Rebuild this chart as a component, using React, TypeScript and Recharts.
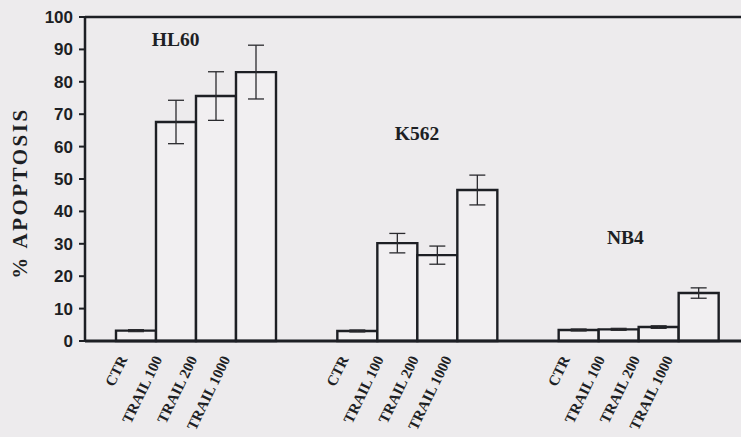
import React from 'react';
import { BarChart, Bar, XAxis, YAxis, ErrorBar, ReferenceLine, ReferenceDot } from 'recharts';

const groups = ['HL60', 'K562', 'NB4'];
const treatments = ['CTR', 'TRAIL 100', 'TRAIL 200', 'TRAIL 1000'];

const ctr = [3.2, 3.1, 3.4];
const ctrErr = [0.3, 0.3, 0.3];
const trail100 = [67.6, 30.2, 3.6];
const trail100Err = [6.7, 3.0, 0.3];
const trail200 = [75.6, 26.5, 4.3];
const trail200Err = [7.5, 2.8, 0.4];
const trail1000 = [83.0, 46.6, 14.8];
const trail1000Err = [8.3, 4.6, 1.6];

const yTicks = [0, 10, 20, 30, 40, 50, 60, 70, 80, 90, 100];

const data = groups.map((g, i) => ({
  group: g,
  ctr: ctr[i],
  ctrErr: ctrErr[i],
  t100: trail100[i],
  t100Err: trail100Err[i],
  t200: trail200[i],
  t200Err: trail200Err[i],
  t1000: trail1000[i],
  t1000Err: trail1000Err[i],
}));

const SERIF = '"Liberation Serif", "Times New Roman", serif';
const SANS = '"Liberation Sans", Arial, sans-serif';
const INK = '#1d1f24';
const BG = '#edebed';

// offsets of the four rotated labels from the group centre
const labelOffsets = [-68, -33, 2, 35];

function GroupTick(props: any) {
  const { x, y } = props;
  return (
    <g>
      {treatments.map((t, i) => {
        const ax = x + labelOffsets[i];
        const ay = y + 18;
        return (
          <text
            key={t}
            x={ax}
            y={ay}
            textAnchor="end"
            transform={`rotate(-64 ${ax} ${ay})`}
            fontFamily={SERIF}
            fontWeight="bold"
            fontSize={15}
            fill={INK}
          >
            {t}
          </text>
        );
      })}
    </g>
  );
}

function groupName(name: string, dx: number) {
  return (p: any) => (
    <text
      x={p.cx + dx}
      y={p.cy}
      textAnchor="middle"
      dominantBaseline="central"
      fontFamily={SERIF}
      fontWeight="bold"
      fontSize={19.5}
      fill={INK}
    >
      {name}
    </text>
  );
}

const barProps = {
  fill: '#f1eff1',
  stroke: INK,
  strokeWidth: 2.4,
  isAnimationActive: false,
};

const errProps = {
  width: 8,
  stroke: '#2a2a2e',
  strokeWidth: 1.3,
  direction: 'y' as const,
};

export default function App() {
  return (
    <div style={{ position: 'absolute', left: 0, top: 0, width: 741, height: 437, overflow: 'hidden', background: BG }}>
      <BarChart
        width={760}
        height={437}
        data={data}
        margin={{ top: 17, right: 11, left: 0, bottom: 0 }}
        barGap={0}
        barSize={40}
      >
        <XAxis
          dataKey="group"
          height={96}
          axisLine={{ stroke: INK, strokeWidth: 3 }}
          tickLine={false}
          tickSize={0}
          tickMargin={0}
          interval={0}
          tick={<GroupTick />}
        />
        <YAxis
          width={85}
          domain={[0, 100]}
          ticks={yTicks}
          interval={0}
          axisLine={{ stroke: INK, strokeWidth: 2.5 }}
          tickLine={{ stroke: INK, strokeWidth: 2 }}
          tickSize={6}
          tickMargin={6}
          tick={{ fontFamily: SANS, fontWeight: 'bold', fontSize: 17, fill: INK }}
          label={() => (
            <text
              x={27}
              y={193}
              transform="rotate(-90 27 193)"
              textAnchor="middle"
              fontFamily={SERIF}
              fontWeight="bold"
              fontSize={21}
              letterSpacing={2.5}
              fill={INK}
            >
              % APOPTOSIS
            </text>
          )}
        />
        <ReferenceLine y={100} stroke={INK} strokeWidth={2.5} />
        <Bar dataKey="ctr" {...barProps}>
          <ErrorBar dataKey="ctrErr" {...errProps} />
        </Bar>
        <Bar dataKey="t100" {...barProps}>
          <ErrorBar dataKey="t100Err" {...errProps} />
        </Bar>
        <Bar dataKey="t200" {...barProps}>
          <ErrorBar dataKey="t200Err" {...errProps} />
        </Bar>
        <Bar dataKey="t1000" {...barProps}>
          <ErrorBar dataKey="t1000Err" {...errProps} />
        </Bar>
        <ReferenceDot x="HL60" y={93.2} r={0} shape={groupName('HL60', -20)} />
        <ReferenceDot x="K562" y={64} r={0} shape={groupName('K562', 0)} />
        <ReferenceDot x="NB4" y={31.8} r={0} shape={groupName('NB4', -13)} />
      </BarChart>
    </div>
  );
}
